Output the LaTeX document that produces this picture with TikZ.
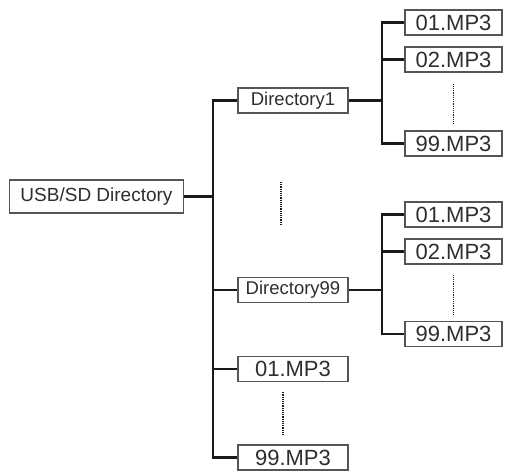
\documentclass[tikz,border=0pt]{standalone}
\usepackage{fontspec}
\setmainfont{Liberation Sans}

\definecolor{boxgray}{HTML}{555555}
\definecolor{linegray}{HTML}{1A1A1A}
\definecolor{textgray}{HTML}{2E2E2E}

\tikzset{
    rootbox/.style={draw=boxgray, line width=1.3pt, text=textgray, inner sep=0pt,
        minimum width=174pt, minimum height=33pt, font=\fontsize{19}{19}\selectfont},
    dirbox/.style={draw=boxgray, line width=1.3pt, text=textgray, inner sep=0pt,
        minimum width=110pt, minimum height=25pt, font=\fontsize{18.5}{18.5}\selectfont},
    filebox/.style={draw=boxgray, line width=1.3pt, text=textgray, inner sep=0pt,
        minimum width=97pt, minimum height=25pt, font=\fontsize{22}{22}\selectfont},
    widefile/.style={filebox, minimum width=110pt},
    link/.style={draw=linegray, line width=2.2pt},
    dots/.style={draw=linegray, line width=1.6pt, dash pattern=on 1.2pt off 1pt}
}

\begin{document}
\begin{tikzpicture}[x=1pt,y=-1pt]
    \useasboundingbox (0,0) rectangle (509,473);
    % x positions of the vertical bars
    \coordinate (trunk) at (213,0);
    \coordinate (sub) at (382,0);

    \node[rootbox] (usb) at (96.5,196.5) {USB/SD Directory};

    \node[dirbox] (d1) at (293,100.5) {Directory1};
    \node[dirbox] (d99) at (293,290) {Directory99};
    \node[widefile] (m01) at (293,369) {01.MP3};
    \node[widefile] (m99) at (293,457.5) {99.MP3};

    \node[filebox] (a01) at (453.5,22.5) {01.MP3};
    \node[filebox] (a02) at (453.5,59.5) {02.MP3};
    \node[filebox] (a99) at (453.5,143.5) {99.MP3};

    \node[filebox] (b01) at (453.5,214.5) {01.MP3};
    \node[filebox] (b02) at (453.5,251.5) {02.MP3};
    \node[filebox] (b99) at (453.5,334) {99.MP3};

    % main tree
    \draw[link] (usb.east) -- (usb -| trunk);
    \draw[link] (d1.west) -- (d1 -| trunk) -- (m99 -| trunk) -- (m99.west);
    \draw[link] (d99.west) -- (d99 -| trunk);
    \draw[link] (m01.west) -- (m01 -| trunk);

    % Directory1 files
    \draw[link] (d1.east) -- (d1 -| sub);
    \draw[link] (a01.west) -- (a01 -| sub) -- (a99 -| sub) -- (a99.west);
    \draw[link] (a02.west) -- (a02 -| sub);

    % Directory99 files
    \draw[link] (d99.east) -- (d99 -| sub);
    \draw[link] (b01.west) -- (b01 -| sub) -- (b99 -| sub) -- (b99.west);
    \draw[link] (b02.west) -- (b02 -| sub);

    % gaps
    \draw[dots] ([yshift=-11pt]a02.south) -- ([yshift=7pt]a99.north);
    \draw[dots] ([yshift=-10pt]b02.south) -- ([yshift=6pt]b99.north);
    \coordinate (gaptop) at (281,182);
    \coordinate (gapbot) at (281,225);
    \draw[dots] (gaptop) -- (gapbot);
    \draw[dots] ([xshift=-10pt,yshift=-10pt]m01.south) -- ([xshift=-10pt,yshift=10pt]m99.north);
\end{tikzpicture}
\end{document}
